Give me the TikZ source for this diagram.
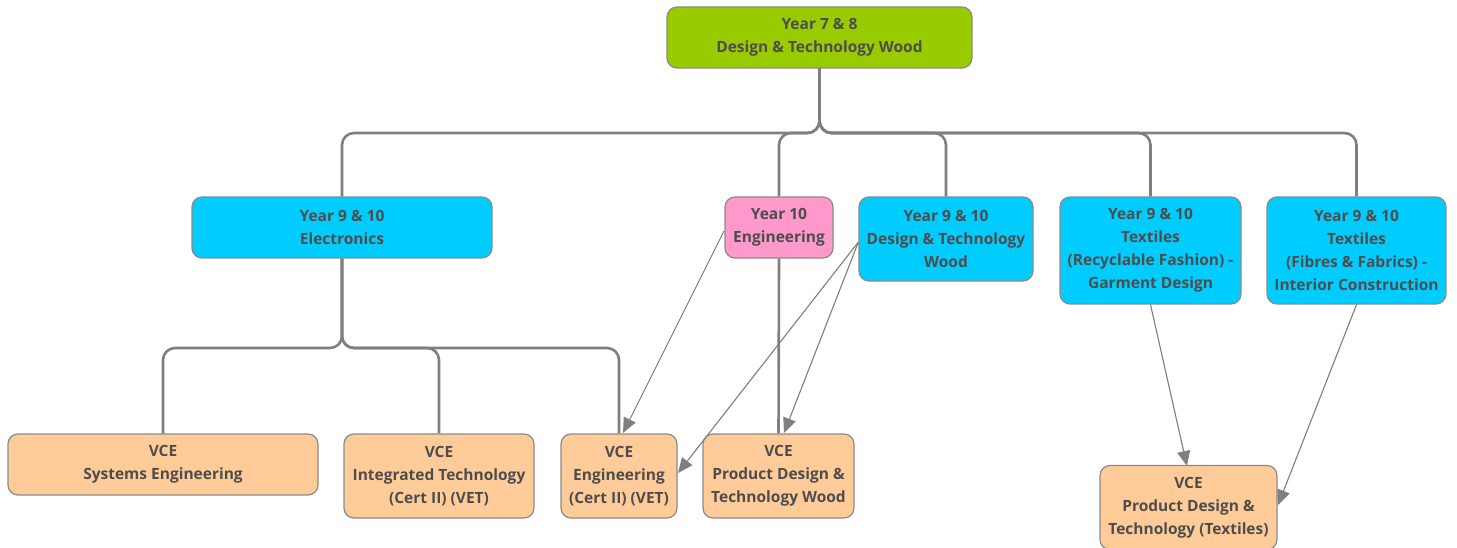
\documentclass[tikz,border=0pt]{standalone}
\usepackage{fontspec}
\setmainfont{Open Sans}
\usepackage{tikz}
\usetikzlibrary{shapes}
\usetikzlibrary{arrows.meta}
\usetikzlibrary{calc}
\definecolor{vert}{HTML}{99CC00}
\definecolor{bleu}{HTML}{00CCFF}
\definecolor{rose}{HTML}{FF99CC}
\definecolor{orange}{HTML}{FFCC99}
\definecolor{bord}{HTML}{8A8A8A}
\definecolor{trait}{HTML}{7F7F7F}
\definecolor{texte}{HTML}{4D4D4D}
\tikzstyle{boite}=[rectangle,draw=bord,line width=1.2pt,rounded corners=10pt,
  inner sep=0pt,align=center,text=texte,
  font=\fontsize{15.5}{23}\selectfont\bfseries]
\tikzstyle{racine}=[boite,fill=vert]
\tikzstyle{annee}=[boite,fill=bleu]
\tikzstyle{annee10}=[boite,fill=rose]
\tikzstyle{vce}=[boite,fill=orange]
\tikzstyle{arbre}=[draw=trait,line width=2.6pt,rounded corners=12pt]
\tikzstyle{fleche}=[-{Triangle[length=15pt,width=13pt]},draw=trait,fill=trait,line width=1.1pt]

\begin{document}
\begin{tikzpicture}[x=1pt,y=-1pt]
\useasboundingbox (0,0) rectangle (1457,548);
\node[racine,minimum width=305pt,minimum height=61pt] (a) at (819.5,37.5) {Year 7 \& 8\\Design \& Technology Wood};
\node[annee,minimum width=300pt,minimum height=61pt] (b) at (342,227.5) {Year 9 \& 10\\Electronics};
\node[annee10,minimum width=108pt,minimum height=61pt] (c) at (779,227.5) {Year 10\\Engineering};
\node[annee,minimum width=174pt,minimum height=84pt] (d) at (946,239) {Year 9 \& 10\\Design \& Technology\\Wood};
\node[annee,minimum width=181pt,minimum height=107pt] (e) at (1150.5,250.5) {Year 9 \& 10\\Textiles\\(Recyclable Fashion) -\\Garment Design};
\node[annee,minimum width=179pt,minimum height=107pt] (f) at (1356.5,250.5) {Year 9 \& 10\\Textiles\\(Fibres \& Fabrics) -\\Interior Construction};
\node[vce,minimum width=310pt,minimum height=61pt] (g) at (163,464.5) {VCE\\Systems Engineering};
\node[vce,minimum width=190pt,minimum height=84pt] (h) at (439,476) {VCE\\Integrated Technology\\(Cert II) (VET)};
\node[vce,minimum width=116pt,minimum height=84pt] (i) at (619,476) {VCE\\Engineering\\(Cert II) (VET)};
\node[vce,minimum width=151pt,minimum height=84pt] (j) at (778.5,476) {VCE\\Product Design \&\\Technology Wood};
\node[vce,minimum width=177pt,minimum height=84pt] (k) at (1188.5,507.5) {VCE\\Product Design \&\\Technology (Textiles)};
\coordinate (ba) at (819.5,133);
\coordinate (bb) at (342,348);
%Placementdesbranches
\draw[arbre] (a.south) -- (ba) -| (b.north);
\draw[arbre] (a.south) -- (ba) -| (c.north);
\draw[arbre] (a.south) -- (ba) -| (d.north);
\draw[arbre] (a.south) -- (ba) -| (e.north);
\draw[arbre] (a.south) -- (ba) -| (f.north);
\draw[arbre] (b.south) -- (bb) -| (g.north);
\draw[arbre] (b.south) -- (bb) -| (h.north);
\draw[arbre] (b.south) -- (bb) -| (i.north);
\draw[arbre] (c.south) -- (j.north);
%Placementdesfleches
\draw[fleche] (724,231) -- (623,433);
\draw[fleche] (d.west) ++(0,3) -- (678,473);
\draw[fleche] (d.west) ++(0,3) -- (784,433);
\draw[fleche] (e.south) -- (1187,466);
\draw[fleche] (f.south) -- (1278,505);
\end{tikzpicture}
\end{document}
